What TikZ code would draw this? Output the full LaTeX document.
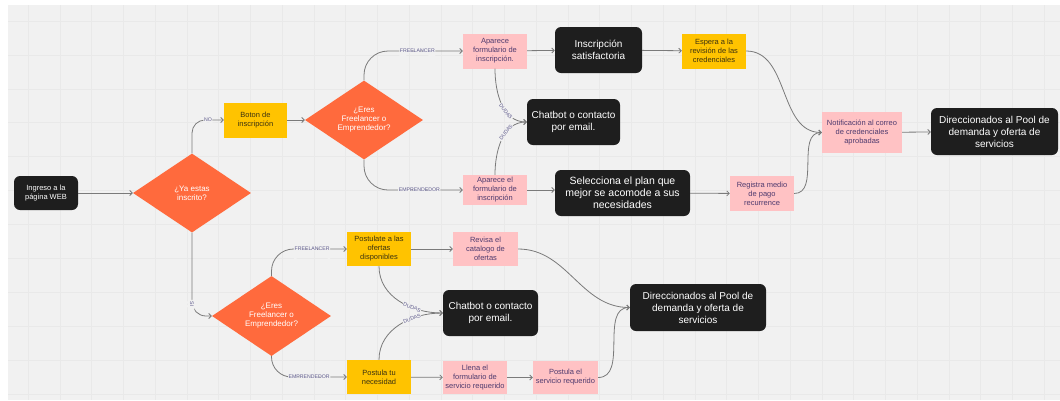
\documentclass[tikz,border=0pt]{standalone}
\usepackage{fontspec}
\setmainfont{Liberation Sans}
\usetikzlibrary{shapes.geometric,arrows.meta}

\definecolor{canvas}{HTML}{F1F1F1}
\definecolor{gridc}{HTML}{E9E9E9}
\definecolor{darkbox}{HTML}{1E1E1E}
\definecolor{decision}{HTML}{FF6A3D}
\definecolor{stepyellow}{HTML}{FFC300}
\definecolor{steppink}{HTML}{FFC2C4}
\definecolor{pinktext}{HTML}{4E3A6E}
\definecolor{yellowtext}{HTML}{3B3210}
\definecolor{wirec}{HTML}{7A7A7A}
\definecolor{tagtext}{HTML}{5E5A8C}

\tikzset{
  box/.style 2 args={minimum width=#1pt, minimum height=#2pt},
  darknode/.style={fill=darkbox, rounded corners=6pt, text=white, align=center,
    inner sep=0pt, font=\fontsize{10}{12}\selectfont},
  pinknode/.style={fill=steppink, text=pinktext, align=center, inner sep=0pt,
    font=\fontsize{7.5}{9}\selectfont},
  yellownode/.style={fill=stepyellow, text=yellowtext, align=center, inner sep=0pt,
    font=\fontsize{7.5}{9}\selectfont},
  decisionnode/.style={diamond, fill=decision, text=white, align=center, inner sep=0pt,
    font=\fontsize{8}{9}\selectfont},
  wire/.style={draw=wirec, line width=0.8pt, -{Straight Barb[length=2.5pt,width=5pt]}},
  tag/.style={font=\fontsize{5.2}{6}\selectfont, text=tagtext, fill=canvas, inner sep=0.6pt},
}

\begin{document}
\begin{tikzpicture}[x=1pt, y=-1pt]
  \useasboundingbox (0,0) rectangle (1060,400);
  \fill[white] (0,0) rectangle (1060,400);
  \fill[canvas] (8,5) rectangle (1060,400);
  % background grid
  \foreach \i in {0,...,32} \draw[gridc, line width=0.5pt] ({28+31.75*\i},5) -- ({28+31.75*\i},400);
  \foreach \j in {0,...,11} \draw[gridc, line width=0.5pt] (8,{21+33.9*\j}) -- (1060,{21+33.9*\j});

  % upper branch: registration
  \node[darknode, box={64}{34}, font=\fontsize{7.5}{9}\selectfont] (web) at (46,193) {Ingreso a la\\página WEB};
  \node[decisionnode, box={118}{79}] (reg) at (192,193) {¿Ya estas\\inscrito?};
  \node[yellownode, box={63}{35}] (boton) at (255.5,120) {Boton de\\inscripción};
  \node[decisionnode, box={118}{79}] (tipo1) at (364,120) {¿Eres\\Freelancer o\\Emprendedor?};
  \node[pinknode, box={64}{35}] (form1) at (495,51) {Aparece\\formulario de\\inscripción.};
  \node[pinknode, box={64}{30}] (form2) at (495,190) {Aparece el\\formulario de\\inscripción};
  \node[darknode, box={93}{46}] (chat1) at (573.5,122) {Chatbot o contacto\\por email.};
  \node[darknode, box={87}{46}] (ok) at (598.5,50) {Inscripción\\satisfactoria};
  \node[darknode, box={135}{46}, font=\fontsize{10.5}{11.8}\selectfont] (plan) at (622.5,193) {Selecciona el plan que\\mejor se acomode a sus\\necesidades};
  \node[yellownode, box={64}{35}] (espera) at (714,51) {Espera a la\\revisión de las\\credenciales};
  \node[pinknode, box={64}{35}] (pago) at (762,193.5) {Registra medio\\de pago\\recurrence};
  \node[pinknode, box={80}{41}] (notif) at (862,132.5) {Notificación al correo\\de credenciales\\aprobadas};
  \node[darknode, box={127}{47}] (pool1) at (994.5,131.5) {Direccionados al Pool de\\demanda y oferta de\\servicios};

  % lower branch: already registered
  \node[decisionnode, box={119}{80}] (tipo2) at (271.5,316) {¿Eres\\Freelancer o\\Emprendedor?};
  \node[yellownode, box={64}{34}] (ofertas) at (379,249) {Postulate a las\\ofertas\\disponibles};
  \node[yellownode, box={64}{34}] (necesidad) at (379,377) {Postula tu\\necesidad};
  \node[darknode, box={95}{46}] (chat2) at (490.5,313) {Chatbot o contacto\\por email.};
  \node[pinknode, box={65}{34}] (catalogo) at (485.5,249) {Revisa el\\catalogo de\\ofertas};
  \node[pinknode, box={64}{33}] (llena) at (475,377.5) {Llena el\\formulario de\\servicio requerido};
  \node[pinknode, box={65}{33}] (postula) at (565.5,377.5) {Postula el\\servicio requerido};
  \node[darknode, box={136}{47}] (pool2) at (698,307.5) {Direccionados al Pool de\\demanda y oferta de\\servicios};

  % connectors, upper branch
  \draw[wire] (web) -- (reg.west);
  \draw[wire, rounded corners=13pt] (reg.north) |- node[tag, pos=0.75] {NO} (boton.west);
  \draw[wire] (boton) -- (tipo1.west);
  \draw[wire, rounded corners=24pt] (tipo1.north) |- node[tag, pos=0.77] {FREELANCER} (form1.west);
  \draw[wire, rounded corners=24pt] (tipo1.south) |- node[tag, pos=0.78] {EMPRENDEDOR} (form2.west);
  \draw[wire] (form1.south) to[out=-90, in=180] node[tag, pos=0.62, sloped] {DUDAS} (chat1.west);
  \draw[wire] (form2.north) to[out=90, in=180] node[tag, pos=0.62, sloped] {DUDAS} (chat1.west);
  \draw[wire] (form1) -- (ok);
  \draw[wire] (ok) -- (espera);
  \draw[wire] (espera.east) to[out=0, in=180] (notif.west);
  \draw[wire] (form2) -- (plan.west |- form2);
  \draw[wire] (plan) -- (pago);
  \draw[wire] (pago.east) to[out=0, in=180] (notif.west);
  \draw[wire] (notif) -- (pool1);

  % connectors, lower branch
  \draw[wire, rounded corners=14pt] (reg.south) |- node[tag, pos=0.43, sloped] {SI} (tipo2.west);
  \draw[wire, rounded corners=22pt] (tipo2.north) |- node[tag, pos=0.77] {FREELANCER} (ofertas.west);
  \draw[wire, rounded corners=20pt] (tipo2.south) |- node[tag, pos=0.75] {EMPRENDEDOR} (necesidad.west);
  \draw[wire] (ofertas.south) to[out=-90, in=180] node[tag, pos=0.66, sloped] {DUDAS} (chat2.west);
  \draw[wire] (necesidad.north) to[out=90, in=180] node[tag, pos=0.66, sloped] {DUDAS} (chat2.west);
  \draw[wire] (ofertas) -- (catalogo);
  \draw[wire] (catalogo.east) to[out=0, in=180] (pool2.west);
  \draw[wire] (necesidad) -- (llena);
  \draw[wire] (llena) -- (postula);
  \draw[wire] (postula.east) to[out=0, in=180] (pool2.west);
\end{tikzpicture}
\end{document}
